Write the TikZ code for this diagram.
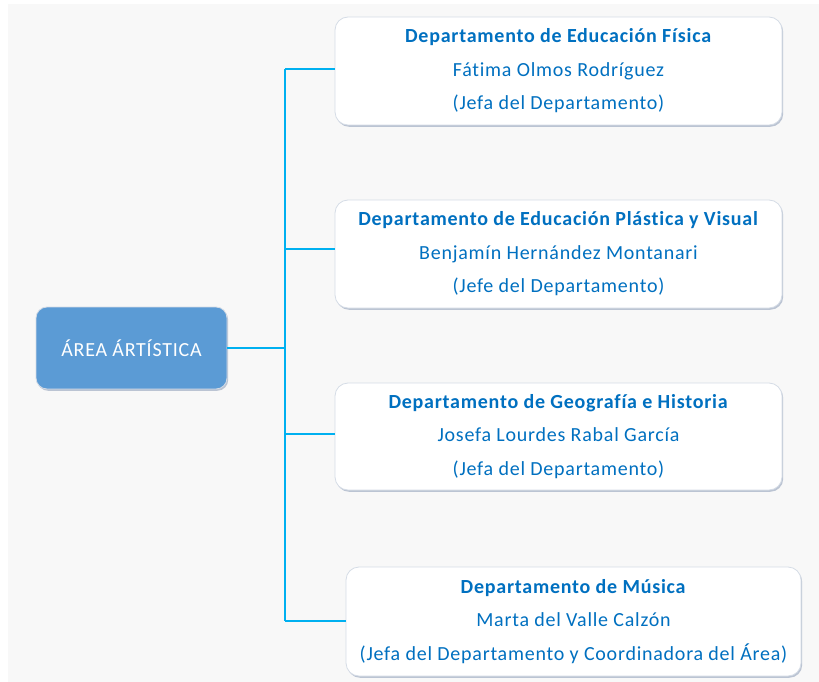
\documentclass[tikz,border=0pt]{standalone}
\usepackage{fontspec}
\setmainfont{Carlito}[LetterSpace=3.8, Ligatures=NoCommon]
\usetikzlibrary{shadows}
\definecolor{bgc}{HTML}{F8F8F8}
\definecolor{txtblue}{HTML}{0070C0}
\definecolor{linec}{HTML}{00B0F0}
\definecolor{mainfill}{HTML}{5B9BD5}
\definecolor{edgec}{HTML}{D5DCE6}
\definecolor{shadc}{HTML}{8A9AB5}
\tikzset{
  deptbox/.style={draw=edgec, line width=0.8pt, fill=white, rounded corners=13pt,
    drop shadow={shadow xshift=1.2pt, shadow yshift=-1.8pt, fill=shadc, opacity=0.55},
    align=center, text=txtblue, inner sep=0pt,
    font=\fontsize{20}{33.5}\selectfont},
  mainbox/.style={draw=edgec, line width=0.8pt, fill=mainfill, rounded corners=11pt,
    drop shadow={shadow xshift=1.2pt, shadow yshift=-1.8pt, fill=shadc, opacity=0.55},
    align=center, text=white, inner sep=0pt,
    font=\fontsize{20}{22}\selectfont},
  conn/.style={draw=linec, line width=1.8pt}
}
\begin{document}
\begin{tikzpicture}[x=1pt,y=-1pt]
\useasboundingbox (0,0) rectangle (819,682);
\fill[bgc] (8,4) rectangle (819,682);
\node[mainbox, minimum width=191pt, minimum height=82pt] (main) at (131.5,348) {ÁREA ÁRTÍSTICA};
\node[deptbox, minimum width=447pt, minimum height=108pt] (b1) at (558.5,71)
  {\textbf{Departamento de Educación Física}\\Fátima Olmos Rodríguez\\(Jefa del Departamento)};
\node[deptbox, minimum width=447pt, minimum height=108pt] (b2) at (558.5,254)
  {\textbf{Departamento de Educación Plástica y Visual}\\Benjamín Hernández Montanari\\(Jefe del Departamento)};
\node[deptbox, minimum width=447pt, minimum height=107pt] (b3) at (558.5,436.5)
  {\textbf{Departamento de Geografía e Historia}\\Josefa Lourdes Rabal García\\(Jefa del Departamento)};
\node[deptbox, minimum width=455pt, minimum height=109pt] (b4) at (573.5,621.5)
  {\textbf{Departamento de Música}\\Marta del Valle Calzón\\(Jefa del Departamento y Coordinadora del Área)};
\coordinate (j1) at (285,69);
\coordinate (j2) at (285,249);
\coordinate (j3) at (285,434);
\coordinate (j4) at (285,621);
\coordinate (jm) at (285,348);
\draw[conn] (j1) -- (j4);
\draw[conn] (main.east |- jm) -- (jm);
\draw[conn] (j1) -- (b1.west |- j1);
\draw[conn] (j2) -- (b2.west |- j2);
\draw[conn] (j3) -- (b3.west |- j3);
\draw[conn] (j4) -- (b4.west |- j4);
\end{tikzpicture}
\end{document}
